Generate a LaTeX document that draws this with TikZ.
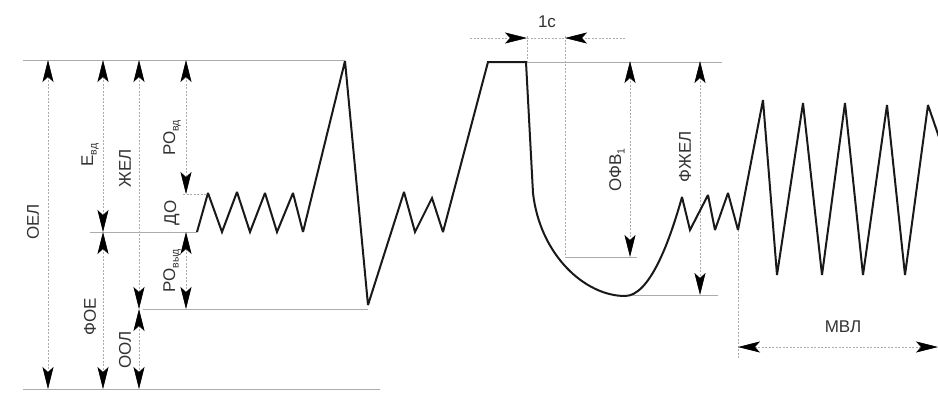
\documentclass[tikz,border=0pt]{standalone}
\usepackage{fontspec}
\setmainfont{Liberation Sans}
\usetikzlibrary{arrows.meta}
\newcommand\lowsub[1]{\raisebox{-0.4ex}{\fontsize{10.5}{11}\selectfont #1}}
\begin{document}
\begin{tikzpicture}[x=1pt,y=-1pt,
  tipst/.tip={Stealth[length=22pt,width=11pt,inset=5pt,color=black]},
  refline/.style={gray!65, line width=0.6pt},
  dimline/.style={gray!65, line width=0.6pt, dash pattern=on 2pt off 1.5pt, tipst-tipst},
  tipend/.style={gray!65, line width=0.6pt, dash pattern=on 2pt off 1.5pt, -tipst},
  spiro/.style={black!90, line width=2pt, line join=miter, miter limit=3},
  lab/.style={font=\fontsize{17}{20}\selectfont, inner sep=0pt, text=black!80},
  vlab/.style={lab, rotate=90}]
\useasboundingbox[fill=white] (0,0) rectangle (938,394);

% levels
\coordinate (tlcL) at (23,60);   \coordinate (tlcR) at (345,60);
\coordinate (tlc2L) at (526,62); \coordinate (tlc2R) at (722,62);
\coordinate (dtL) at (183,194);  \coordinate (dtR) at (208,194);
\coordinate (frcL) at (90,232);  \coordinate (frcR) at (197,232);
\coordinate (rvL) at (143,309);  \coordinate (rvR) at (368,309);
\coordinate (botL) at (23,389);  \coordinate (botR) at (380,389);
\coordinate (fevL) at (565,257); \coordinate (fevR) at (637,257);
\coordinate (fvcL) at (625,295); \coordinate (fvcR) at (718,295);

\draw[refline] (tlcL) -- (tlcR);
\draw[refline] (tlc2L) -- (tlc2R);
\draw[refline, dash pattern=on 2pt off 1.5pt] (dtL) -- (dtR);
\draw[refline] (frcL) -- (frcR);
\draw[refline] (rvL) -- (rvR);
\draw[refline] (botL) -- (botR);
\draw[refline] (fevL) -- (fevR);
\draw[refline] (fvcL) -- (fvcR);

% 1 s marks
\coordinate (s1top) at (527,36);  \coordinate (s1bot) at (527,62);
\coordinate (s2top) at (565,36);  \coordinate (s2bot) at (565,257);
\coordinate (hL) at (470,38); \coordinate (hR) at (625,38);
\coordinate (hA) at (527,38); \coordinate (hB) at (565,38);
\draw[refline, dash pattern=on 2pt off 1.5pt] (s1top) -- (s1bot);
\draw[refline, dash pattern=on 2pt off 1.5pt] (s2top) -- (s2bot);
\draw[refline, dash pattern=on 2pt off 1.5pt] (hA) -- (hB);
\draw[tipend] (hL) -- (hA);
\draw[tipend] (hR) -- (hB);
\node[lab] (l1c) at (547,22) {1с};

% vertical dimension arrows
\coordinate (oelT) at (48,60);  \coordinate (oelB) at (48,389);
\coordinate (evdT) at (103,60); \coordinate (evdB) at (103,232);
\coordinate (foeT) at (103,232);\coordinate (foeB) at (103,389);
\coordinate (zhT) at (139,60);  \coordinate (zhB) at (139,309);
\coordinate (oolT) at (139,309);\coordinate (oolB) at (139,389);
\coordinate (rvdT) at (186,60); \coordinate (rvdB) at (186,194);
\coordinate (rvyT) at (186,232);\coordinate (rvyB) at (186,309);
\coordinate (ofvT) at (630,61); \coordinate (ofvB) at (630,257);
\coordinate (fzT) at (700,61);  \coordinate (fzB) at (700,295);
\draw[dimline] (oelT) -- (oelB);
\draw[dimline] (evdT) -- (evdB);
\draw[dimline] (foeT) -- (foeB);
\draw[dimline] (zhT) -- (zhB);
\draw[dimline] (oolT) -- (oolB);
\draw[dimline] (rvdT) -- (rvdB);
\draw[dimline] (rvyT) -- (rvyB);
\draw[dimline] (ofvT) -- (ofvB);
\draw[dimline] (fzT) -- (fzB);

% MVL
\coordinate (mvTop) at (738,230); \coordinate (mvBot) at (738,358);
\coordinate (mvL) at (738,347); \coordinate (mvR) at (938,347);
\draw[refline, dash pattern=on 2pt off 1.5pt] (mvTop) -- (mvBot);
\draw[dimline] (mvL) -- (mvR);
\node[lab] (lmvl) at (843,327) {МВЛ};

% labels
\node[vlab] (loel) at (33,222) {ОЕЛ};
\node[vlab] (levd) at (90,155) {Е\lowsub{вд}};
\node[vlab] (lfoe) at (90,317) {ФОЕ};
\node[vlab] (lzh) at (125,168) {ЖЕЛ};
\node[vlab] (lool) at (125,350) {ООЛ};
\node[vlab] (lrvd) at (172,138) {РО\lowsub{вд}};
\node[vlab] (ldo) at (172,213) {ДО};
\node[vlab] (lrvy) at (172,271) {РО\lowsub{выд}};
\node[vlab] (lofv) at (617,170) {ОФВ\lowsub{1}};
\node[vlab] (lfzh) at (685,157) {ФЖЕЛ};

% spirogram
\begin{scope}
\clip (0,0) rectangle (938,394);
\draw[spiro] (197,232) -- (208,193) -- (222,232) -- (237,192) -- (250,232)
  -- (265,193) -- (277,232) -- (293,193) -- (303,232) -- (345,61)
  -- (368,305) -- (404,192) -- (415,232) -- (432,198) -- (443,232)
  -- (488,62) -- (526,62) -- (533,193)
  .. controls (540,255) and (585,296) .. (625,296)
  .. controls (650,296) and (670,240) .. (682,197)
  -- (690,230) -- (708,195) -- (715,230) -- (728,193) -- (738,230)
  -- (763,100) -- (777,275) -- (803,103) -- (822,275) -- (845,103)
  -- (863,275) -- (887,105) -- (905,275) -- (928,105) -- (940,140);
\end{scope}
\end{tikzpicture}
\end{document}
